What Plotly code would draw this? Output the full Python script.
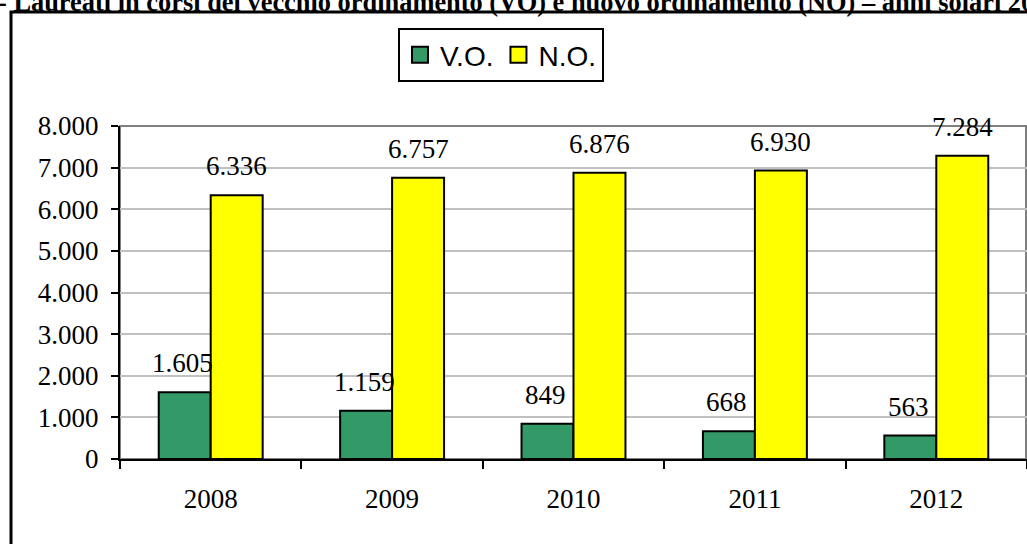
import plotly.graph_objects as go

years = ["2008", "2009", "2010", "2011", "2012"]
vo = [1605, 1159, 849, 668, 563]
no = [6336, 6757, 6876, 6930, 7284]
vo_labels = ["1.605", "1.159", "849", "668", "563"]
no_labels = ["6.336", "6.757", "6.876", "6.930", "7.284"]
y_ticks = [0, 1000, 2000, 3000, 4000, 5000, 6000, 7000, 8000]
y_tick_text = ["0", "1.000", "2.000", "3.000", "4.000", "5.000", "6.000", "7.000", "8.000"]
title_text = "- Laureati in corsi del vecchio ordinamento (VO) e nuovo ordinamento (NO) – anni solari 2008-2012"

W, H = 1027, 544
GREEN = "#339966"
YELLOW = "#FFFF00"
SERIF = "Liberation Serif, Times New Roman, serif"
SANS = "Liberation Sans, Arial, sans-serif"

x0d, x1d = 120 / W, 1.0
y0d, y1d = 1 - 459 / H, 1 - 126 / H

fig = go.Figure()
fig.add_trace(go.Bar(x=years, y=vo, name="V.O.", marker=dict(color=GREEN, line=dict(color="black", width=2)),
                     showlegend=False, offsetgroup="vo"))
fig.add_trace(go.Bar(x=years, y=no, name="N.O.", marker=dict(color=YELLOW, line=dict(color="black", width=2)),
                     showlegend=False, offsetgroup="no"))
# legend entries (no visible marks)
for nm, col in [("V.O.", GREEN), ("N.O.", YELLOW)]:
    fig.add_trace(go.Scatter(x=[years[0]], y=[None], mode="markers", name=nm, hoverinfo="skip",
                             marker=dict(symbol="square", size=18, color=col, line=dict(color="black", width=2))))

annotations = []
for i, (v, t) in enumerate(zip(vo, vo_labels)):
    annotations.append(dict(x=i, y=v, text=t, xref="x", yref="y", showarrow=False, xshift=-28,
                            yanchor="bottom", yshift=12, font=dict(family=SERIF, size=27, color="black")))
for i, (v, t) in enumerate(zip(no, no_labels)):
    annotations.append(dict(x=i, y=v, text=t, xref="x", yref="y", showarrow=False, xshift=26,
                            yanchor="bottom", yshift=12, font=dict(family=SERIF, size=27, color="black")))
annotations.append(dict(x=0, y=1 - 2 / H, xref="paper", yref="paper", xanchor="left", yanchor="middle",
                        xshift=-4, text="<b>" + title_text + "</b>", showarrow=False,
                        font=dict(family=SERIF, size=26.4, color="black")))

shapes = [
    dict(type="rect", xref="paper", yref="paper", x0=11 / W, x1=1.05, y0=-0.1, y1=1 - 12 / H,
         line=dict(color="black", width=3), fillcolor="rgba(0,0,0,0)"),
    dict(type="rect", xref="paper", yref="paper", x0=x0d, x1=x1d - 1 / W, y0=y0d, y1=y1d,
         line=dict(color="#808080", width=2), fillcolor="rgba(0,0,0,0)", layer="below"),
]

fig.update_layout(
    width=W, height=H,
    margin=dict(l=0, r=0, t=0, b=0, autoexpand=False),
    paper_bgcolor="white", plot_bgcolor="white",
    barmode="group", bargap=0.427, bargroupgap=0,
    annotations=annotations, shapes=shapes,
    legend=dict(orientation="h", x=398 / W, y=1 - 28 / H, xanchor="left", yanchor="top",
                bordercolor="black", borderwidth=2, bgcolor="white",
                font=dict(family=SANS, size=28, color="black"), itemsizing="trace"),
    xaxis=dict(domain=[x0d, x1d], type="category", categoryorder="array", categoryarray=years,
               range=[-0.5, 4.5], automargin=False, tickangle=0,
               showline=True, linecolor="black", linewidth=2,
               ticks="outside", tickson="boundaries", ticklen=8, tickwidth=2, tickcolor="black",
               tickfont=dict(family=SERIF, size=27, color="black"), ticklabelstandoff=15,
               showgrid=False, fixedrange=True),
    yaxis=dict(domain=[y0d, y1d], range=[0, 8000], tickvals=y_ticks, ticktext=y_tick_text, automargin=False,
               showline=True, linecolor="black", linewidth=2, ticks="outside", ticklen=7, tickwidth=2,
               tickcolor="black", tickfont=dict(family=SERIF, size=27, color="black"),
               showgrid=True, gridcolor="#C0C0C0", gridwidth=2, zeroline=False, ticklabelstandoff=7,
               fixedrange=True),
)

fig.write_html("out.html", config={"displayModeBar": False},
               post_script="document.body.style.margin='0';document.body.style.overflow='hidden';")
